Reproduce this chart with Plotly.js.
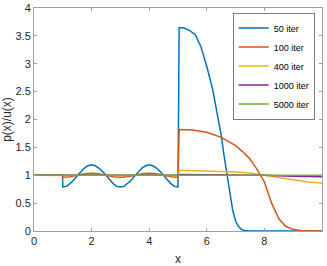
<!DOCTYPE html>
<html><head><meta charset="utf-8">
<script src="https://cdn.plot.ly/plotly-3.0.1.min.js"></script>
<style>html,body{margin:0;padding:0;background:#fff}#chart{width:327px;height:266px}</style>
</head><body><div id="chart"></div>
<script>
// Series names
const seriesNames = ["50 iter", "100 iter", "400 iter", "1000 iter", "5000 iter"];
const seriesColors = ["#0072BD", "#D95319", "#EDB120", "#7E2F8E", "#77AC30"];

// 50 iter
const x50 = [0, 0.5, 0.99,
  1.0, 1.125, 1.25, 1.375, 1.5, 1.625, 1.75, 1.875, 2.0, 2.125, 2.25, 2.375, 2.5, 2.625, 2.75, 2.875,
  3.0, 3.125, 3.25, 3.375, 3.5, 3.625, 3.75, 3.875, 4.0, 4.125, 4.25, 4.375, 4.5, 4.625, 4.75, 4.875, 5.0,
  5.04, 5.2, 5.4, 5.6, 5.8, 6.0, 6.2, 6.4, 6.5, 6.6, 6.7, 6.8, 6.9, 7.0, 7.1, 7.2, 7.3, 7.5, 8, 9, 10];
const y50 = [1.0, 1.0, 1.0,
  0.79, 0.80, 0.85, 0.91, 0.99, 1.07, 1.13, 1.17, 1.19, 1.17, 1.13, 1.07, 0.99, 0.91, 0.85, 0.80,
  0.79, 0.80, 0.85, 0.91, 0.99, 1.07, 1.13, 1.17, 1.19, 1.17, 1.13, 1.07, 0.99, 0.91, 0.85, 0.80, 0.79,
  3.65, 3.64, 3.60, 3.52, 3.30, 2.95, 2.55, 2.00, 1.72, 1.35, 1.00, 0.65, 0.37, 0.18, 0.08, 0.03, 0.01, 0, 0, 0, 0];

// 100 iter
const x100 = [0, 0.99,
  1.0, 1.25, 1.5, 1.75, 2.0, 2.25, 2.5, 2.75, 3.0, 3.25, 3.5, 3.75, 4.0, 4.25, 4.5, 4.75, 5.0,
  5.04, 5.5, 6.0, 6.5, 7.0, 7.25, 7.5, 7.75, 8.0, 8.25, 8.5, 8.75, 9.0, 9.25, 9.5, 10];
const y100 = [1.0, 1.0,
  0.965, 0.975, 1.0, 1.025, 1.035, 1.025, 1.0, 0.975, 0.965, 0.975, 1.0, 1.025, 1.035, 1.025, 1.0, 0.975, 0.965,
  1.82, 1.81, 1.77, 1.68, 1.53, 1.42, 1.29, 1.10, 0.88, 0.50, 0.22, 0.08, 0.03, 0.01, 0, 0];

// 400 iter
const x400 = [0, 1, 2, 3, 4, 5.0, 5.04, 6, 7, 7.5, 8, 8.5, 9, 9.5, 10];
const y400 = [1.0, 0.995, 1.005, 0.995, 1.005, 0.99, 1.09, 1.08, 1.06, 1.04, 1.0, 0.95, 0.91, 0.88, 0.86];

// 1000 iter
const x1000 = [0, 5.0, 5.04, 7.5, 8, 9, 10];
const y1000 = [1.0, 1.0, 1.015, 1.012, 1.0, 0.98, 0.975];

// 5000 iter
const x5000 = [0, 5, 10];
const y5000 = [1.0, 1.0, 0.998];

const xTicks = [0, 2, 4, 6, 8, 10];
const yTicks = [0, 0.5, 1, 1.5, 2, 2.5, 3, 3.5, 4];
const yTickText = ["0", "0.5", "1", "1.5", "2", "2.5", "3", "3.5", "4"];

const xs = [x50, x100, x400, x1000, x5000];
const ys = [y50, y100, y400, y1000, y5000];
const traces = xs.map((x, i) => ({
  x: x, y: ys[i], type: "scatter", mode: "lines", name: seriesNames[i],
  line: {color: seriesColors[i], width: 1.5}
}));

const axisCommon = {
  showgrid: false, zeroline: false, showline: true, linecolor: "#a0a0a0", linewidth: 1,
  ticks: "inside", ticklen: 3, tickcolor: "#a0a0a0", tickwidth: 1, mirror: "ticks",
  tickfont: {family: "Liberation Sans, Arial, sans-serif", size: 11, color: "#262626"}
};

const layout = {
  width: 327, height: 266,
  margin: {l: 34, r: 5, t: 8, b: 35},
  paper_bgcolor: "#fff", plot_bgcolor: "#fff",
  font: {family: "Liberation Sans, Arial, sans-serif", size: 11, color: "#262626"},
  xaxis: Object.assign({}, axisCommon, {
    range: [0, 10], tickvals: xTicks, ticktext: xTicks.map(String),
    title: {text: "x", font: {size: 12, color: "#262626"}, standoff: 8}
  }),
  yaxis: Object.assign({}, axisCommon, {
    range: [0, 4], tickvals: yTicks, ticktext: yTickText,
    title: {text: "p(x)/u(x)", font: {size: 12, color: "#262626"}, standoff: 3}
  }),
  showlegend: true,
  legend: {
    x: 0.976, y: 0.978, xanchor: "right", yanchor: "top",
    bgcolor: "#fff", bordercolor: "#262626", borderwidth: 0.6,
    font: {size: 9, color: "#000"}, itemwidth: 30, tracegroupgap: 0
  }
};

Plotly.newPlot("chart", traces, layout, {displayModeBar: false, staticPlot: true});
</script></body></html>
